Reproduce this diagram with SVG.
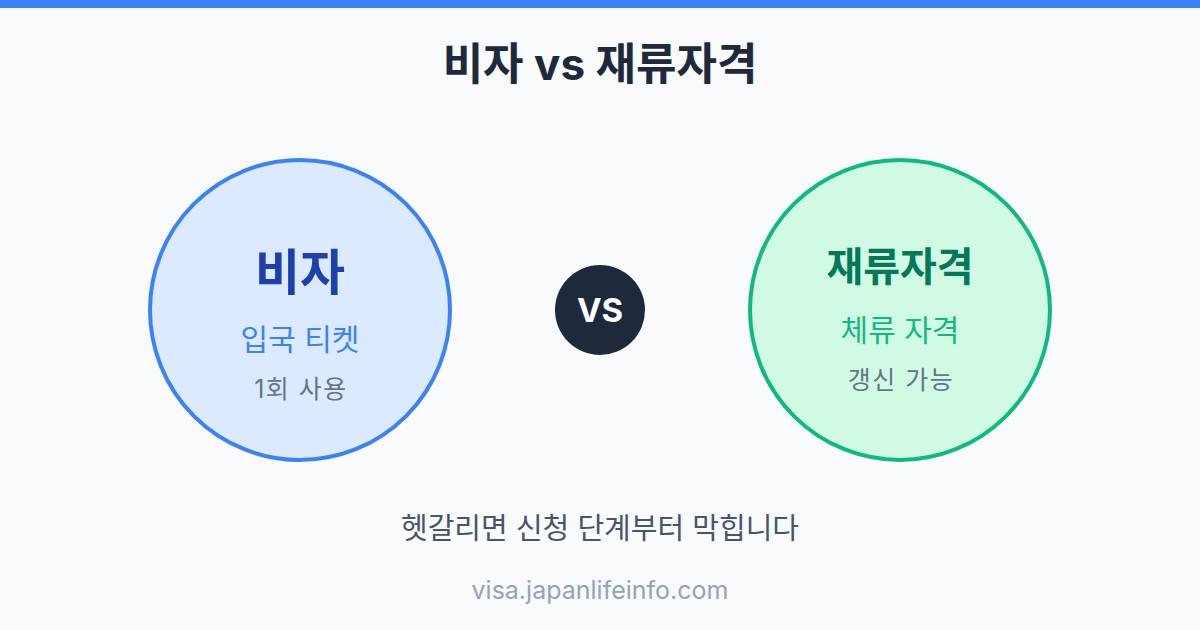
<svg xmlns="http://www.w3.org/2000/svg" width="1200" height="630" viewBox="0 0 1200 630">
<style>
text{font-family:Inter,"Noto Sans CJK KR","Noto Sans",sans-serif;text-anchor:middle}
.title{font-size:44px;font-weight:700;fill:#1e293b}
.big{font-weight:700}
.sub{font-size:30px}
.note{font-size:25px;fill:#64748b;letter-spacing:1.5px}
</style>
<rect width="1200" height="630" fill="#f8fafc"/>
<rect width="1200" height="8" fill="#3b82f6"/>
<text class="title" x="600" y="80">비자 vs 재류자격</text>
<g id="connectors"></g>
<g id="visa">
<circle cx="300" cy="310" r="150" fill="#dbeafe" stroke="#3b82f6" stroke-width="4"/>
<text class="big" x="300" y="290" font-size="49" fill="#1e40af">비자</text>
<text class="sub" x="300" y="350" fill="#3b82f6">입국 티켓</text>
<text class="note" x="301" y="398">1회 사용</text>
</g>
<g id="vs">
<circle cx="600" cy="310" r="45" fill="#1e293b"/>
<text x="600" y="322" font-size="33" font-weight="700" fill="#ffffff">VS</text>
</g>
<g id="status">
<circle cx="900" cy="310" r="150" fill="#d1fae5" stroke="#10b981" stroke-width="4"/>
<text class="big" x="900" y="281" font-size="40" fill="#047857">재류자격</text>
<text class="sub" x="900" y="341" fill="#10b981">체류 자격</text>
<text class="note" x="901" y="389">갱신 가능</text>
</g>
<text x="600" y="539" font-size="29" fill="#475569">헷갈리면 신청 단계부터 막힙니다</text>
<text x="600" y="599" font-size="25" fill="#94a3b8">visa.japanlifeinfo.com</text>
</svg>
